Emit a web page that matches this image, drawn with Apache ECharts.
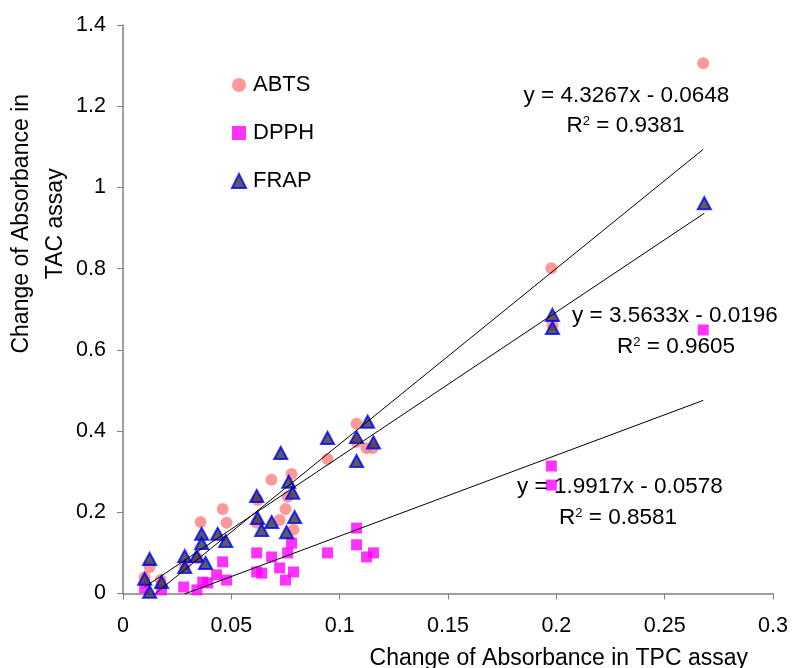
<!DOCTYPE html>
<html>
<head>
<meta charset="utf-8">
<script src="https://cdn.jsdelivr.net/npm/echarts@6/dist/echarts.min.js"></script>
<style>
  html, body { margin: 0; padding: 0; background: #fff; }
  #scatter { width: 793px; height: 668px; }
</style>
</head>
<body>
<div id="scatter"></div>
<script>
// TPC (x) vs TAC (y) change of absorbance
var abtsX = [0.0100, 0.0123, 0.0174, 0.0286, 0.0344, 0.0358, 0.0460, 0.0478, 0.0617, 0.0621, 0.0685, 0.0723, 0.0750, 0.0760, 0.0778, 0.0787, 0.0944, 0.1078, 0.1078, 0.1124, 0.1152, 0.1977, 0.1982, 0.2678];
var abtsY = [0.040, 0.065, 0.033, 0.070, 0.087, 0.176, 0.208, 0.174, 0.174, 0.230, 0.280, 0.181, 0.208, 0.238, 0.294, 0.157, 0.331, 0.418, 0.373, 0.358, 0.358, 0.801, 0.661, 1.306];

var dpphX = [0.0100, 0.0178, 0.0280, 0.0341, 0.0368, 0.0391, 0.0432, 0.0460, 0.0478, 0.0617, 0.0617, 0.0640, 0.0686, 0.0723, 0.0750, 0.0760, 0.0778, 0.0787, 0.0944, 0.1078, 0.1078, 0.1124, 0.1156, 0.1977, 0.1977, 0.2678];
var dpphY = [0.014, 0.009, 0.016, 0.009, 0.028, 0.026, 0.046, 0.078, 0.033, 0.100, 0.053, 0.050, 0.090, 0.063, 0.033, 0.100, 0.124, 0.053, 0.100, 0.161, 0.120, 0.090, 0.100, 0.314, 0.267, 0.649];

var frapX = [0.0123, 0.0100, 0.0178, 0.0123, 0.0285, 0.0285, 0.0363, 0.0363, 0.0340, 0.0381, 0.0437, 0.0474, 0.0617, 0.0621, 0.0686, 0.0640, 0.0728, 0.0765, 0.0783, 0.0792, 0.0755, 0.0944, 0.1078, 0.1129, 0.1156, 0.1078, 0.1982, 0.1982, 0.2683];
var frapY = [0.085, 0.036, 0.028, 0.004, 0.092, 0.065, 0.147, 0.124, 0.092, 0.075, 0.147, 0.129, 0.240, 0.186, 0.176, 0.156, 0.346, 0.275, 0.248, 0.188, 0.151, 0.383, 0.385, 0.423, 0.372, 0.326, 0.686, 0.654, 0.961];

// linear fits printed on the chart
var fitNames = ["ABTS", "DPPH", "FRAP"];
var fitSlope = [4.3267, 1.9917, 3.5633];
var fitIntercept = [-0.0648, -0.0578, -0.0196];
var fitR2 = ["0.9381", "0.8581", "0.9605"];

var xTicks = [0, 0.05, 0.1, 0.15, 0.2, 0.25, 0.3];
var yTicks = [0, 0.2, 0.4, 0.6, 0.8, 1, 1.2, 1.4];

var FONT = "'Liberation Sans', Arial, sans-serif";

function pairs(xs, ys) {
  return xs.map(function (x, i) { return [x, ys[i]]; });
}

function fitLine(xs, k) {
  var lo = Math.min.apply(null, xs), hi = Math.max.apply(null, xs);
  return [
    [lo, fitSlope[k] * lo + fitIntercept[k]],
    [hi, fitSlope[k] * hi + fitIntercept[k]]
  ];
}

function eqText(k) {
  return "y = " + fitSlope[k].toFixed(4) + "x - " + Math.abs(fitIntercept[k]).toFixed(4);
}

var chart = echarts.init(document.getElementById("scatter"));

var option = {
  backgroundColor: "#ffffff",
  animation: false,
  textStyle: { fontFamily: FONT, color: "#000" },
  grid: { left: 123, right: 20, top: 25, bottom: 74.5, outerBoundsMode: "none", containLabel: false },
  legend: {
    orient: "vertical",
    left: 226,
    top: 69,
    itemWidth: 14,
    itemHeight: 14,
    itemGap: 26,
    textStyle: { fontFamily: FONT, fontSize: 22, color: "#000", padding: [0, 0, 0, 2] },
    data: fitNames
  },
  xAxis: {
    type: "value",
    min: 0,
    max: 0.3,
    interval: 0.05,
    name: "Change of Absorbance in TPC assay",
    nameLocation: "end",
    nameGap: -25,
    nameMoveOverlap: false,
    nameTextStyle: { fontFamily: FONT, fontSize: 23, color: "#000", align: "right", verticalAlign: "top", padding: [54, 0, 0, 0] },
    axisLine: { lineStyle: { color: "#808080", width: 1.5 } },
    axisTick: { show: true, inside: false, length: 6, lineStyle: { color: "#808080" } },
    axisLabel: {
      fontFamily: FONT, fontSize: 21.5, color: "#000", margin: 22,
      formatter: function (v) { return xTicks.indexOf(+v.toFixed(2)) >= 0 ? String(+v.toFixed(2)) : ""; }
    },
    splitLine: { show: false }
  },
  yAxis: {
    type: "value",
    min: 0,
    max: 1.4,
    interval: 0.2,
    name: "Change of Absorbance in\nTAC assay",
    nameLocation: "middle",
    nameGap: 50,
    nameMoveOverlap: false,
    nameTextStyle: { fontFamily: FONT, fontSize: 23, color: "#000", lineHeight: 34, padding: [0, 0, 0, 171] },
    axisLine: { show: true, lineStyle: { color: "#808080", width: 1.5 } },
    axisTick: { show: true, inside: false, length: 6, lineStyle: { color: "#808080" } },
    axisLabel: {
      fontFamily: FONT, fontSize: 21.5, color: "#000", margin: 17,
      formatter: function (v) { return yTicks.indexOf(+v.toFixed(1)) >= 0 ? String(+v.toFixed(1)) : ""; }
    },
    splitLine: { show: false }
  },
  series: [
    {
      name: "ABTS", type: "scatter", symbol: "circle", symbolSize: 12,
      itemStyle: { color: "#FF8080" },
      data: pairs(abtsX, abtsY), z: 2
    },
    {
      name: "DPPH", type: "scatter", symbol: "rect", symbolSize: 11,
      itemStyle: { color: "#FF00FF" },
      data: pairs(dpphX, dpphY), z: 3
    },
    {
      name: "FRAP", type: "scatter", symbol: "triangle", symbolSize: [13, 12],
      itemStyle: { color: "#333333", borderColor: "#0000FF", borderWidth: 2 },
      data: pairs(frapX, frapY), z: 4
    },
    {
      type: "line", data: fitLine(abtsX, 0), symbol: "none", clip: true, z: 5,
      lineStyle: { color: "#000", width: 1 }, silent: true
    },
    {
      type: "line", data: fitLine(dpphX, 1), symbol: "none", clip: true, z: 5,
      lineStyle: { color: "#000", width: 1 }, silent: true
    },
    {
      type: "line", data: fitLine(frapX, 2), symbol: "none", clip: true, z: 5,
      lineStyle: { color: "#000", width: 1 }, silent: true
    }
  ],
  graphic: []
};

// equation labels, placed where the original had them
var eqPos = [[626.5, 96], [620, 487], [675, 316]];
var r2Pos = [[625.5, 126], [618, 518], [676, 347]];
[0, 1, 2].forEach(function (k) {
  option.graphic.push({
    type: "text", x: eqPos[k][0], y: eqPos[k][1], z: 10,
    style: { text: eqText(k), font: "22.5px " + FONT, fill: "#000", align: "center", verticalAlign: "middle" }
  });
  option.graphic.push({
    type: "text", x: r2Pos[k][0], y: r2Pos[k][1], z: 10,
    style: {
      text: "{a|R}{s|2}{a| = " + fitR2[k] + "}",
      align: "center", verticalAlign: "middle",
      rich: {
        a: { font: "22.5px " + FONT, fill: "#000" },
        s: { font: "13px " + FONT, fill: "#000", verticalAlign: "top", padding: [0, 0, 9, 0] }
      }
    }
  });
});

chart.setOption(option);
</script>
</body>
</html>
